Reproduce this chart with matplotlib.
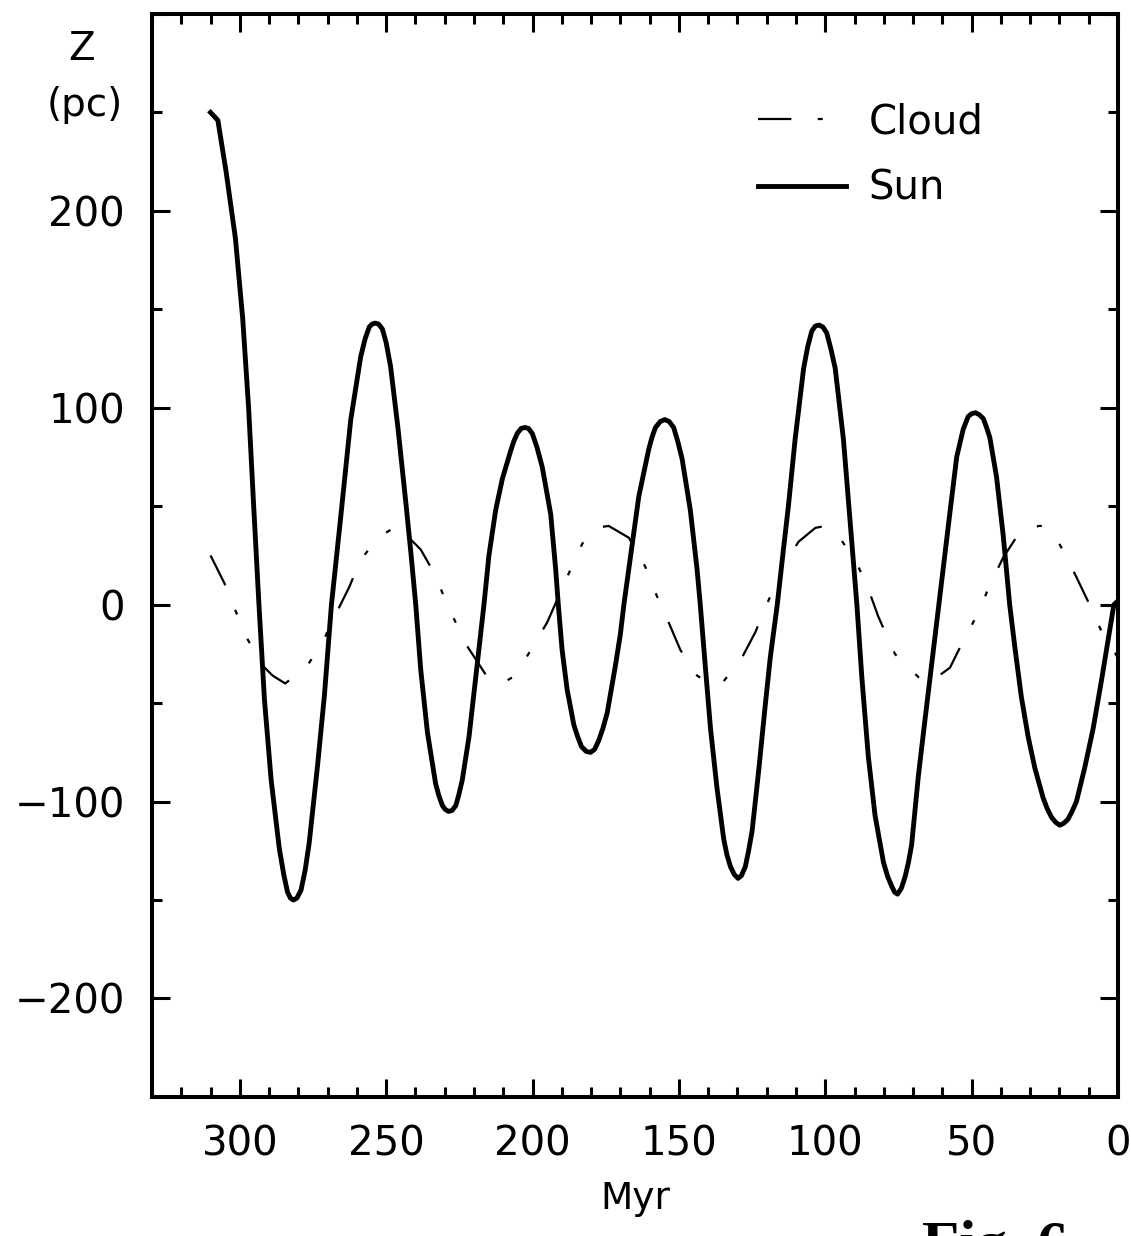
import matplotlib
matplotlib.use("Agg")
import matplotlib.pyplot as plt
from matplotlib.ticker import MultipleLocator, FixedLocator

# Sun: vertical position Z (pc) vs time ago (Myr)
sun_myr = [310.0, 307.5, 304.7, 301.5, 299.0, 297.0, 295.3, 293.5, 291.6, 289.3,
           286.5, 285.0, 283.7, 282.7, 281.7, 280.5, 279.1, 277.7, 276.3, 273.4,
           271.1, 268.7, 265.5, 262.1, 258.7, 257.2, 255.8, 254.8, 253.8, 252.6,
           251.3, 250.0, 248.5, 246.0, 243.3, 241.6, 239.9, 238.2, 235.9, 233.1,
           232.0, 230.8, 229.8, 228.7, 227.5, 226.2, 225.1, 224.0, 221.7, 219.4,
           216.6, 214.9, 212.6, 210.3, 207.5, 206.4, 205.2, 203.9, 202.6, 201.4,
           200.1, 198.5, 196.7, 193.8, 192.1, 191.2, 189.9, 188.2, 185.9, 184.6,
           183.3, 181.7, 180.2, 178.8, 177.4, 176.0, 174.5, 171.7, 170.0, 168.8,
           166.0, 163.7, 160.3, 159.2, 158.0, 156.4, 154.8, 153.3, 151.8, 150.4,
           148.9, 146.1, 143.8, 142.7, 141.0, 139.2, 137.0, 134.7, 133.6, 132.4,
           131.1, 129.8, 128.6, 127.3, 126.2, 125.0, 122.8, 120.5, 118.8, 116.4,
           114.3, 112.6, 110.3, 107.4, 106.0, 104.6, 103.4, 102.1, 100.8, 99.5,
           98.1, 96.6, 93.8, 91.5, 90.0, 89.2, 87.5, 85.3, 83.0, 80.1,
           78.7, 77.3, 76.3, 75.3, 74.0, 72.7, 71.6, 70.5, 68.2, 65.9,
           63.7, 61.2, 59.1, 57.4, 55.1, 54.0, 52.9, 51.2, 50.0, 48.7,
           47.4, 46.0, 44.9, 43.8, 41.5, 39.2, 37.0, 35.2, 33.0, 30.7,
           28.4, 25.6, 24.2, 22.7, 21.3, 19.9, 18.5, 17.1, 15.7, 14.2,
           11.4, 8.5, 5.7, 3.4, 1.4, 0.0]
sun_z = [250, 246, 220, 186, 145, 100, 51, 1, -48, -89,
         -124, -137, -146, -149, -150, -149, -145, -135, -121, -81,
         -46, 0, 45, 94, 126, 135, 141, 142.5, 143, 142.5,
         140, 133, 121, 90, 52, 27, 0, -33, -65, -91,
         -97, -102, -104, -105, -104.5, -102, -96, -89, -67, -37,
         0, 25, 48, 64, 78, 83, 87, 89.5, 90, 89.5,
         87, 80, 70, 46, 18, 0, -23, -43, -61, -67,
         -72, -74.5, -75, -73.5, -69, -63, -55, -31, -15, 0,
         30, 55, 79, 85, 90, 93, 94, 93, 90, 83,
         74, 48, 18, 0, -31, -63, -93, -119, -127, -133,
         -137, -139, -137.5, -133, -125, -115, -85, -51, -27, 0,
         28, 50, 84, 120, 131, 139, 141.5, 142, 141, 138,
         130, 120, 84, 42, 14, 0, -37, -77, -107, -131,
         -138, -143, -146, -147, -144, -138, -131, -122, -87, -58,
         -31, 0, 26, 47, 75, 82, 89, 95.5, 97, 97.5,
         96.5, 94.5, 90, 85, 65, 35, 0, -22, -47, -67,
         -83, -98, -103.5, -108, -110.5, -112, -111, -109, -105, -100,
         -83, -63, -39, -18, 0, 2]

# Cloud
cloud_myr = [310.0, 305.3, 301.5, 297.2, 292.2, 288.8, 284.5, 277.4, 271.7, 268.3,
             262.6, 259.0, 253.0, 246.2, 238.2, 233.6, 229.1, 222.8, 214.9, 210.5,
             205.8, 197.8, 195.0, 187.0, 183.0, 178.5, 174.0, 167.1, 161.4, 158.0,
             153.5, 149.5, 143.8, 139.5, 135.3, 128.5, 123.9, 120.0, 114.3, 109.1,
             103.4, 100.0, 95.5, 89.2, 85.3, 81.9, 76.2, 73.7, 68.0, 64.8,
             57.4, 53.4, 47.7, 43.8, 39.2, 33.5, 27.0, 25.0, 21.6, 18.2,
             14.2, 9.7, 5.5, 0.0]
cloud_z = [25, 11, -3, -18, -31, -36, -40, -32, -19, -8,
           9, 22, 34, 40, 28, 16, 0, -20, -38, -40,
           -36, -16, -9, 18, 31, 39, 40, 34, 19, 6,
           -9, -23, -36, -40, -40, -27, -14, 0, 20, 32,
           39, 40, 35, 21, 8, -6, -25, -29, -37, -40,
           -32, -20, -4, 10, 24, 37, 40, 40, 35, 26,
           14, 0, -14, -27]

xticks = [300, 250, 200, 150, 100, 50, 0]
yticks = [-200, -100, 0, 100, 200]

plt.rcParams['font.family'] = 'DejaVu Sans'
plt.rcParams['lines.scale_dashes'] = False

fig = plt.figure(figsize=(11.31, 12.36), dpi=100)
ax = fig.add_axes([0.1344, 0.1125, 0.8541, 0.8762])

# long dash, then two short dots
ax.plot(cloud_myr, cloud_z, color='black', lw=1.6,
        linestyle=(0, (24, 19, 3.6, 19, 3.6, 19)), label='Cloud')
ax.plot(sun_myr, sun_z, color='black', lw=3.5, label='Sun')

ax.set_xlim(330, 0)
ax.set_ylim(-250, 300)

ax.xaxis.set_major_locator(FixedLocator(xticks))
ax.xaxis.set_minor_locator(MultipleLocator(10))
ax.yaxis.set_major_locator(FixedLocator(yticks))
ax.yaxis.set_minor_locator(MultipleLocator(50))

ax.tick_params(which='both', direction='in', top=True, right=True,
               width=2.2, labelsize=29, pad=19.5)
ax.tick_params(which='major', length=13)
ax.tick_params(which='minor', length=7)
for s in ax.spines.values():
    s.set_linewidth(2.9)

ax.set_xlabel('Myr', fontsize=27, labelpad=12)

# y label sits above the tick labels, in two lines
fig.text(82 / 1131, 1 - 60 / 1236, 'Z', fontsize=28, ha='center', va='baseline')
fig.text(85 / 1131, 1 - 116 / 1236, '(pc)', fontsize=28, ha='center', va='baseline')

ax.legend(loc='upper left', bbox_to_anchor=(758 / 1131, 1 - 102 / 1236),
          bbox_transform=fig.transFigure, frameon=False, fontsize=29,
          handlelength=2.19, handletextpad=0.55, labelspacing=0.67,
          borderpad=0, borderaxespad=0)

# caption, cut off by the lower edge as in the scan
fig.text(922 / 1131, 1 - 1263 / 1236, 'Fig. 6', fontsize=44, fontweight='bold',
         family='Liberation Serif', ha='left', va='baseline')

fig.savefig('out.png', dpi=100)
